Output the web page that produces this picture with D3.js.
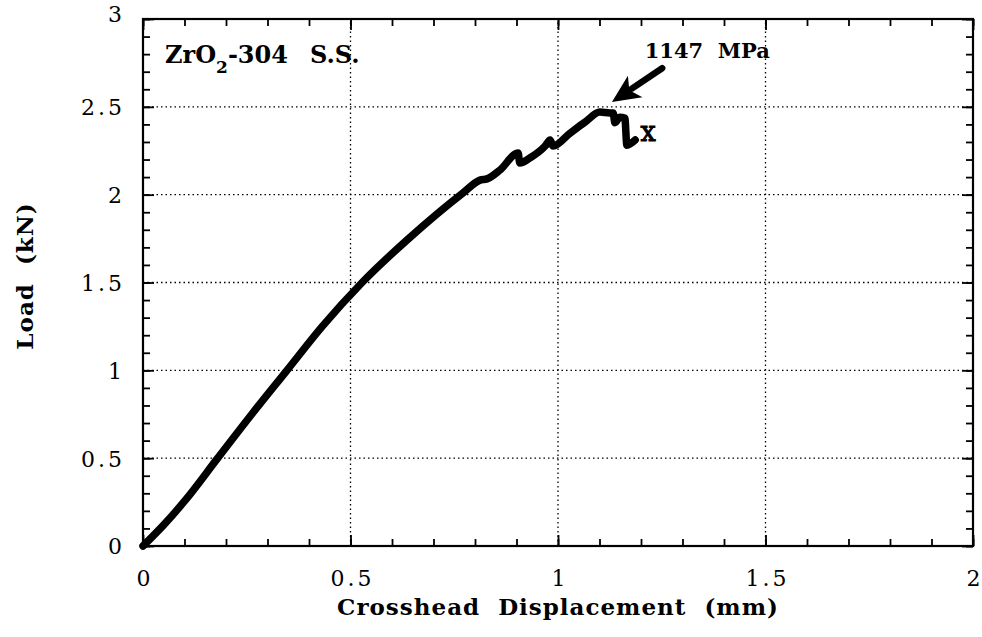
<!DOCTYPE html>
<meta charset="utf-8">
<style>

body {
	margin: 0;
	background: #fff;
}

text {
	font-family: "DejaVu Serif", "Liberation Serif", serif;
	fill: #000;
}

.grid line {
	stroke: #000;
	stroke-width: 1.3;
	stroke-dasharray: 1.5,3;
}

</style>
<svg width="982" height="637"></svg>
<script src="https://d3js.org/d3.v7.min.js"></script>
<script>

	// crosshead displacement (mm) and load (kN)
	var disp = [0, 0.05, 0.1, 0.18, 0.262, 0.347, 0.432, 0.528, 0.64, 0.771,
		0.812, 0.829, 0.86, 0.904, 0.908, 0.933, 0.969, 0.981, 0.988, 1.029, 1.065,
		1.101, 1.125, 1.133, 1.137, 1.149, 1.161, 1.166, 1.186];
	var load = [0, 0.12, 0.255, 0.5, 0.75, 1.0, 1.25, 1.5, 1.75, 2.01,
		2.083, 2.09, 2.14, 2.237, 2.18, 2.21, 2.277, 2.311, 2.277, 2.35, 2.413,
		2.47, 2.465, 2.465, 2.41, 2.44, 2.436, 2.282, 2.311];

	var xTicks = [0, 0.5, 1, 1.5, 2];
	var yTicks = [0, 0.5, 1, 1.5, 2, 2.5, 3];
	var xMinor = d3.range(0, 2.001, 0.1);
	var yMinor = d3.range(0, 3.001, 0.1);

	var specimen = ["ZrO", "2", "-304", "S.S."];
	var peakLabel = "1147  MPa";
	var arrowTip = [1.130, 2.527];
	var arrowTail = [1.251, 2.72];

	var svg = d3.select("svg");

	var x = d3.scaleLinear().domain([0, 2]).range([143, 973]);
	var y = d3.scaleLinear().domain([0, 3]).range([546, 19]);

	// dotted grid at the major ticks
	var grid = svg.append("g").attr("class", "grid");
	grid.selectAll(".gx")
	  .data(xTicks.slice(1, -1))
	  .enter().append("line")
		.attr("x1", x).attr("x2", x)
		.attr("y1", y(0)).attr("y2", y(3));
	grid.selectAll(".gy")
	  .data(yTicks.slice(1, -1))
	  .enter().append("line")
		.attr("y1", y).attr("y2", y)
		.attr("x1", x(0)).attr("x2", x(2));

	// inward ticks on all four sides
	function ticks(axis, values, len, transform) {
		svg.append("g")
			.attr("transform", transform)
			.call(axis.tickValues(values).tickSizeInner(-len).tickSizeOuter(0).tickFormat(""))
			.call(function(g) {
				g.select(".domain").remove();
				g.selectAll("line").attr("stroke", "#000").attr("stroke-width", 1.8);
			});
	}
	ticks(d3.axisBottom(x), xMinor, 7, "translate(0," + y(0) + ")");
	ticks(d3.axisTop(x), xMinor, 7, "translate(0," + y(3) + ")");
	ticks(d3.axisLeft(y), yMinor, 7, "translate(" + x(0) + ",0)");
	ticks(d3.axisRight(y), yMinor, 7, "translate(" + x(2) + ",0)");
	ticks(d3.axisBottom(x), xTicks, 11, "translate(0," + y(0) + ")");
	ticks(d3.axisTop(x), xTicks, 11, "translate(0," + y(3) + ")");
	ticks(d3.axisLeft(y), yTicks, 11, "translate(" + x(0) + ",0)");
	ticks(d3.axisRight(y), yTicks, 11, "translate(" + x(2) + ",0)");

	svg.append("rect")
		.attr("x", x(0)).attr("y", y(3))
		.attr("width", x(2) - x(0)).attr("height", y(0) - y(3))
		.attr("fill", "none")
		.attr("stroke", "#000")
		.attr("stroke-width", 2.2);

	// tick labels
	svg.append("g")
		.attr("transform", "translate(0," + y(0) + ")")
		.call(d3.axisBottom(x).tickValues(xTicks).tickSize(0).tickPadding(24).tickFormat(d3.format("")))
		.call(function(g) {
			g.select(".domain").remove();
			g.selectAll("text")
				.attr("font-family", null)
				.attr("font-size", 22)
				.attr("letter-spacing", 3)
				.attr("dx", 1.5);
		});

	svg.append("g")
		.attr("transform", "translate(" + x(0) + ",0)")
		.call(d3.axisLeft(y).tickValues(yTicks).tickSize(0).tickPadding(21).tickFormat(d3.format("")))
		.call(function(g) {
			g.select(".domain").remove();
			g.selectAll("text")
				.attr("font-family", null)
				.attr("font-size", 22)
				.attr("letter-spacing", 3)
				.attr("dx", 3)
				.attr("dy", function(d) { return d === 3 ? "0.1em" : "0.36em"; });
		});

	// axis titles
	svg.append("text")
		.attr("x", (x(0) + x(2)) / 2)
		.attr("y", 615)
		.attr("text-anchor", "middle")
		.attr("font-size", 23)
		.attr("font-weight", "bold")
		.attr("letter-spacing", 1)
		.attr("xml:space", "preserve")
		.text("Crosshead  Displacement  (mm)");

	svg.append("text")
		.attr("transform", "translate(33," + 276 + ") rotate(-90)")
		.attr("text-anchor", "middle")
		.attr("font-size", 23)
		.attr("font-weight", "bold")
		.attr("letter-spacing", 1)
		.attr("xml:space", "preserve")
		.text("Load  (kN)");

	// specimen label
	var lab = svg.append("text")
		.attr("x", x(0.053))
		.attr("y", y(2.75))
		.attr("font-size", 24)
		.attr("font-weight", "bold");
	lab.append("tspan").text(specimen[0]);
	lab.append("tspan").attr("dy", 10).attr("font-size", 17).text(specimen[1]);
	lab.append("tspan").attr("dy", -10).text(specimen[2]);
	lab.append("tspan").attr("dx", 22).text(specimen[3]);

	// load-displacement trace
	var line = d3.line()
		.curve(d3.curveMonotoneX)
		.x(function(d, i) { return x(disp[i]); })
		.y(function(d, i) { return y(load[i]); });

	svg.append("path")
		.datum(disp)
		.attr("d", line)
		.attr("fill", "none")
		.attr("stroke", "#000")
		.attr("stroke-width", 7.5)
		.attr("stroke-linejoin", "round")
		.attr("stroke-linecap", "round");

	// failure mark
	svg.append("text")
		.attr("x", x(disp[disp.length - 1]) + 13)
		.attr("y", y(load[load.length - 1]) + 1)
		.attr("text-anchor", "middle")
		.attr("font-family", "DejaVu Sans")
		.attr("font-size", 27)
		.attr("stroke", "#000")
		.attr("stroke-width", 1)
		.text("x");

	// peak stress annotation with arrow
	var tip = [x(arrowTip[0]), y(arrowTip[1])],
		tail = [x(arrowTail[0]), y(arrowTail[1])],
		ang = Math.atan2(tip[1] - tail[1], tip[0] - tail[0]),
		headLen = 28, headHalf = 13;
	var base = [tip[0] - headLen * Math.cos(ang), tip[1] - headLen * Math.sin(ang)];
	var nx = -Math.sin(ang), ny = Math.cos(ang);

	svg.append("line")
		.attr("x1", tail[0]).attr("y1", tail[1])
		.attr("x2", base[0] + 4 * Math.cos(ang)).attr("y2", base[1] + 4 * Math.sin(ang))
		.attr("stroke", "#000")
		.attr("stroke-width", 6.5)
		.attr("stroke-linecap", "round");

	svg.append("path")
		.attr("d", d3.line()([
			tip,
			[base[0] + headHalf * nx, base[1] + headHalf * ny],
			[base[0] + 7 * Math.cos(ang), base[1] + 7 * Math.sin(ang)],
			[base[0] - headHalf * nx, base[1] - headHalf * ny]
		]) + "Z")
		.attr("fill", "#000");

	svg.append("text")
		.attr("x", x(1.209))
		.attr("y", y(2.78))
		.attr("font-size", 21)
		.attr("font-weight", "bold")
		.attr("xml:space", "preserve")
		.text(peakLabel);

</script>
